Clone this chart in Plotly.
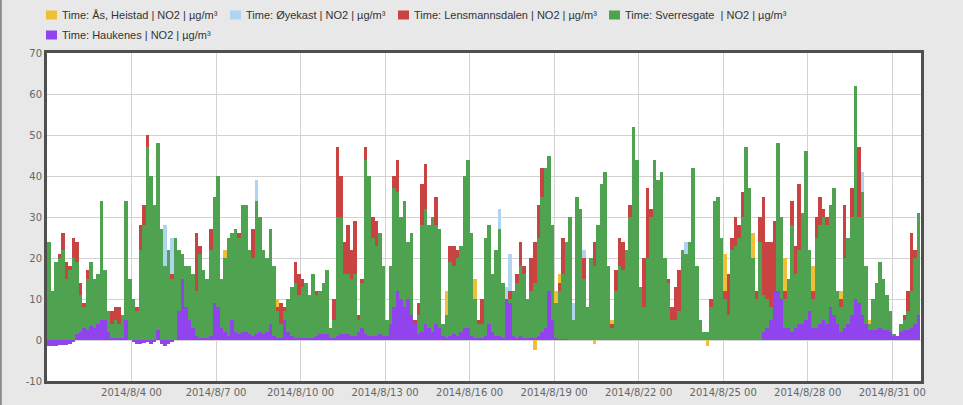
import plotly.graph_objects as go
import pandas as pd

# ---------------- data (3-hour slots, 8 per day, 2014-08-01 .. 2014-08-31) ----------------
series_names = [
    "Time: Ås, Heistad | NO2 | µg/m³",
    "Time: Øyekast | NO2 | µg/m³",
    "Time: Lensmannsdalen | NO2 | µg/m³",
    "Time: Sverresgate  | NO2 | µg/m³",
    "Time: Haukenes | NO2 | µg/m³",
]
series_colors = ["#efbf3a", "#aed4f0", "#c94343", "#4fa24f", "#9143ee"]

as_heistad = [
    [12, 8, 10, 12, 12, 10, 10, 12],      # 8/1
    [10, 7, 6, 10, 12, 10, 10, 20],       # 8/2
    [10, 4, 3, 3, 3, 4, 20, 10],          # 8/3
    [6, 5, 18, 22, 30, 30, 25, 30],       # 8/4
    [18, 12, 15, 10, 16, 15, 14, 12],     # 8/5
    [10, 10, 8, 14, 12, 10, 15, 22],      # 8/6
    [25, 10, 22, 15, 12, 12, 10, 12],     # 8/7
    [20, 14, 12, 20, 18, 14, 12, 16],     # 8/8
    [12, 10, 3, 5, 7, 8, 9, 8],           # 8/9
    [8, 9, 7, 10, 7, 8, 9, 11],           # 8/10
    [2, 4, 20, 20, 11, 11, 10, 11],       # 8/11
    [3, 10, 30, 28, 17, 16, 18, 12],      # 8/12
    [3, 12, 25, 25, 20, 24, 16, 18],      # 8/13
    [3, 4, 20, 22, 20, 21, 20, 19],       # 8/14
    [3, 12, 10, 10, 10, 12, 15, 15],      # 8/15
    [14, 15, 3, 4, 8, 10, 10, 12],        # 8/16
    [16, 8, 6, 6, 8, 9, 12, 10],          # 8/17
    [6, 10, -2.5, 10, 10, 10, 10, 10],    # 8/18
    [12, 16, 10, 10, 10, 3, 10, 10],      # 8/19
    [18, 5, 8, -1, 15, 15, 15, 10],       # 8/20
    [5, 8, 10, 10, 10, 15, 15, 20],       # 8/21
    [10, 6, 14, 20, 30, 26, 28, 14],      # 8/22
    [9, 4, 4, 5, 14, 14, 14, 26],         # 8/23
    [10, 3, 1, -1.5, 5, 10, 15, 18],      # 8/24
    [21, 14, 10, 12, 15, 15, 20, 20],     # 8/25
    [26, 10, 15, 12, 10, 10, 8, 20],      # 8/26
    [20, 20, 12, 15, 10, 10, 10, 15],     # 8/27
    [15, 18, 12, 10, 10, 12, 12, 12],     # 8/28
    [8, 12, 12, 12, 15, 15, 20, 20],      # 8/29
    [10, 5, 5, 6, 10, 8, 6, 4],           # 8/30
    [1, 1, 3, 4, 5, 8, 12, 20],           # 8/31
]
oyekast = [
    [14, 9, 12, 14, 14, 10, 12, 14],
    [12, 8, 6, 10, 14, 10, 12, 24],
    [12, 5, 3, 4, 3, 4, 24, 12],
    [7, 5, 20, 25, 35, 30, 26, 35],
    [20, 28, 15, 25, 15, 15, 15, 10],
    [12, 12, 10, 16, 13, 12, 16, 26],
    [28, 10, 14, 18, 18, 20, 18, 24],
    [20, 18, 18, 39, 25, 18, 15, 15],
    [12, 5, 3, 5, 7, 9, 10, 8],
    [9, 10, 8, 11, 8, 8, 10, 12],
    [2, 4, 22, 22, 12, 12, 11, 12],
    [4, 10, 32, 30, 18, 17, 19, 13],
    [4, 13, 27, 26, 22, 25, 17, 19],
    [3, 4, 21, 24, 21, 22, 21, 20],
    [3, 4, 14, 13, 14, 16, 28, 30],
    [18, 7, 3, 3, 18, 20, 12, 16],
    [32, 12, 13, 21, 10, 10, 12, 10],
    [7, 8, 10, 18, 25, 30, 32, 20],
    [8, 10, 12, 15, 15, 9, 15, 22],
    [22, 5, 10, 12, 15, 15, 15, 12],
    [3, 9, 12, 12, 15, 20, 22, 30],
    [10, 7, 15, 22, 32, 28, 30, 15],
    [10, 5, 8, 10, 20, 24, 20, 25],
    [10, 3, 1, 1, 5, 20, 22, 16],
    [8, 5, 15, 16, 18, 20, 25, 25],
    [14, 7, 16, 8, 7, 6, 8, 30],
    [18, 8, 10, 20, 12, 16, 22, 30],
    [15, 8, 18, 20, 22, 20, 24, 26],
    [8, 8, 15, 18, 25, 30, 30, 41],
    [10, 3, 6, 8, 12, 9, 7, 5],
    [1, 1, 3, 4, 5, 8, 14, 22],
]
lensmannsdalen = [
    [20, 12, 19, 21, 26, 19, 18, 25],
    [24, 14, 9, 17, 18, 15, 16, 30],
    [15, 6, 7, 8, 8, 5, 30, 14],
    [9, 8, 28, 33, 50, 38, 30, 40],
    [22, 15, 18, 16, 20, 20, 18, 15],
    [12, 15, 26, 23, 14, 13, 27, 30],
    [30, 12, 18, 22, 20, 24, 26, 28],
    [25, 20, 27, 30, 25, 18, 16, 20],
    [15, 8, 9, 8, 9, 12, 19, 16],
    [15, 12, 10, 12, 12, 10, 12, 14],
    [3, 10, 47, 40, 24, 28, 22, 29],
    [6, 15, 47, 38, 30, 29, 24, 16],
    [5, 16, 40, 44, 28, 30, 22, 24],
    [5, 9, 38, 43, 28, 30, 35, 25],
    [4, 5, 23, 23, 22, 20, 30, 38],
    [20, 10, 5, 10, 22, 25, 15, 20],
    [22, 12, 9, 12, 12, 16, 24, 18],
    [8, 20, 24, 33, 42, 40, 35, 22],
    [8, 14, 25, 22, 24, 4, 28, 28],
    [20, 6, 15, 24, 28, 32, 34, 16],
    [4, 17, 25, 24, 20, 33, 34, 32],
    [12, 20, 37, 32, 40, 36, 34, 18],
    [15, 8, 13, 17, 18, 20, 18, 32],
    [16, 5, 2, 2, 10, 29, 28, 20],
    [12, 16, 25, 30, 28, 36, 35, 32],
    [20, 12, 30, 35, 24, 24, 29, 40],
    [28, 12, 12, 34, 23, 38, 30, 40],
    [20, 12, 30, 35, 32, 30, 30, 30],
    [10, 10, 33, 25, 37, 40, 47, 30],
    [12, 4, 8, 10, 14, 10, 8, 5],
    [1.5, 1, 4, 6, 12, 26, 22, 29],
]
sverresgate = [
    [24, 12, 19, 20, 22, 15, 17, 20],
    [19, 11, 8, 15, 19, 15, 16, 34],
    [17, 7, 4, 5, 4, 6, 34, 15],
    [10, 7, 22, 28, 47, 40, 33, 48],
    [27, 18, 22, 15, 25, 22, 21, 18],
    [18, 16, 12, 21, 17, 15, 22, 35],
    [40, 15, 20, 25, 26, 27, 25, 33],
    [33, 22, 20, 34, 30, 22, 20, 27],
    [18, 7, 4, 7, 10, 13, 14, 11],
    [13, 14, 11, 16, 11, 12, 14, 17],
    [3, 5, 30, 30, 16, 16, 15, 16],
    [5, 14, 44, 40, 25, 23, 26, 18],
    [5, 18, 37, 36, 30, 34, 24, 26],
    [4, 6, 28, 32, 28, 30, 28, 27],
    [4, 6, 19, 18, 20, 23, 40, 44],
    [26, 10, 4, 4, 25, 28, 16, 22],
    [27, 14, 9, 10, 12, 14, 18, 16],
    [10, 12, 14, 25, 35, 42, 45, 28],
    [9, 12, 16, 24, 30, 5, 35, 32],
    [15, 8, 20, 18, 28, 38, 41, 18],
    [3, 12, 18, 17, 22, 30, 52, 44],
    [13, 8, 20, 30, 44, 39, 41, 20],
    [14, 5, 5, 7, 22, 21, 24, 42],
    [18, 5, 2, 2, 8, 34, 35, 25],
    [10, 6, 22, 23, 25, 30, 47, 37],
    [20, 10, 24, 11, 10, 8, 12, 48],
    [30, 10, 15, 28, 16, 22, 31, 46],
    [22, 10, 25, 28, 30, 28, 33, 37],
    [12, 8, 20, 25, 30, 62, 30, 36],
    [18, 4, 10, 14, 19, 15, 11, 7],
    [1.5, 1, 4, 5, 7, 12, 20, 31],
]
haukenes = [
    [-1.5, -1.5, -1.5, -1.3, -1.3, -1.2, -1, -0.5],
    [1.5, 2, 3, 2.5, 3.5, 3, 4, 5],
    [5, 2, 0.3, 0.3, 0.5, 0.5, 5, 0],
    [-0.5, -1, -1, -0.7, -0.5, -1, -0.5, 2.5],
    [-1, -1.5, -1, -0.5, 0, 7, 15, 8],
    [5, 3, 1, 0.5, 0.3, 0.5, 1, 9],
    [8, 3, 2, 1, 5, 2, 1.5, 2],
    [2, 1.5, 1, 1.5, 2, 1.5, 2, 4],
    [1, 0.5, 0.5, 5, 2, 1, 0.5, 0.5],
    [0.5, 0.3, 0.3, 0.5, 1, 1.5, 1.5, 1.5],
    [0.5, 0.5, 1, 1.5, 1.5, 1.5, 1, 1],
    [2, 3, 1.5, 1, 1, 1, 1.5, 1],
    [1, 4, 8, 12, 10, 8, 10, 6],
    [4, 1.5, 2, 4, 3, 2, 4, 3],
    [1, 0.5, 1, 1.5, 1, 2, 3, 3],
    [1, 0.5, 0.3, 0.5, 1, 4, 2, 1],
    [1, 0.5, 10, 9, 1, 0.5, 1, 0.5],
    [0.3, 0.3, 0.5, 1, 2, 3, 12, 5],
    [0.3, 0.2, 0.2, 0.1, 0, None, None, None],
    [None] * 8,
    [None] * 8,
    [None] * 8,
    [None] * 8,
    [None] * 8,
    [None] * 8,
    [None, None, None, 2, 3, 5, 12, 12],
    [10, 3, 3, 2, 3, 4, 4, 5],
    [7, 3, 3, 4, 5, 4, 8, 6],
    [4, 2, 3, 4, 6, 10, 9, 6],
    [4, 2.5, 2.5, 2.5, 3, 2.5, 2.5, 2],
    [1, 1, 2, 2.5, 2.5, 3, 4, 6],
]

x_tick_dates = ["2014-08-04", "2014-08-07", "2014-08-10", "2014-08-13", "2014-08-16",
                "2014-08-19", "2014-08-22", "2014-08-25", "2014-08-28", "2014-08-31"]
x_tick_text = ["2014/8/4 00", "2014/8/7 00", "2014/8/10 00", "2014/8/13 00", "2014/8/16 00",
               "2014/8/19 00", "2014/8/22 00", "2014/8/25 00", "2014/8/28 00", "2014/8/31 00"]
y_tick_vals = [-10, 0, 10, 20, 30, 40, 50, 60, 70]
y_tick_text = ["-10", "0", "10", "20", "30", "40", "50", "60", "70"]

# ---------------- figure ----------------
slot_hours = 3
slot_start = pd.date_range("2014-08-01 00:00", periods=31 * 8, freq=f"{slot_hours}h")
slot_center = slot_start + pd.Timedelta(hours=slot_hours / 2)
bar_width_ms = slot_hours * 3600 * 1000

all_series = [as_heistad, oyekast, lensmannsdalen, sverresgate, haukenes]

fig = go.Figure()
for name, color, days in zip(series_names, series_colors, all_series):
    vals = [v for day in days for v in day]
    fig.add_trace(go.Bar(
        x=slot_center, y=vals, name=name, width=bar_width_ms,
        marker=dict(color=color, line=dict(width=0)),
        showlegend=False,
    ))

W, H = 963, 405
ML, MR, MT, MB = 47, 42, 53, 24
PW, PH = W - ML - MR, H - MT - MB


def px_x(px):
    return (px - ML) / PW


def px_y(py):
    return (H - MB - py) / PH


# manual legend (positions in pixels)
legend_pos = [(46, 15), (230, 15), (398, 15), (609, 15), (46, 35)]
shapes = []
annotations = []
for (lx, ly), name, color in zip(legend_pos, series_names, series_colors):
    shapes.append(dict(type="rect", xref="paper", yref="paper",
                       x0=px_x(lx), x1=px_x(lx + 11), y0=px_y(ly + 4.5), y1=px_y(ly - 4.5),
                       fillcolor=color, line=dict(width=0), layer="above"))
    annotations.append(dict(xref="paper", yref="paper", x=px_x(lx + 14), y=px_y(ly),
                            xanchor="left", yanchor="middle", showarrow=False, text=name,
                            font=dict(family="Liberation Sans, Arial, sans-serif", size=11, color="#333333")))

# outer left frame line
shapes.append(dict(type="line", xref="paper", yref="paper",
                   x0=px_x(0.8), x1=px_x(0.8), y0=px_y(H), y1=px_y(0),
                   line=dict(color="#8a8a8a", width=2), layer="above"))

tick_font = dict(family="DejaVu Sans, Verdana, sans-serif", size=10, color="#666666")

fig.update_layout(
    width=W, height=H,
    margin=dict(l=ML, r=MR, t=MT, b=MB, autoexpand=False),
    paper_bgcolor="#e8e8e8",
    plot_bgcolor="#ffffff",
    barmode="overlay",
    bargap=0,
    shapes=shapes,
    annotations=annotations,
    xaxis=dict(
        type="date", automargin=False,
        range=["2014-08-01 00:00", "2014-09-01 00:30"],
        tickmode="array", tickvals=x_tick_dates, ticktext=x_tick_text,
        showgrid=True, gridcolor="#d2d2d2", gridwidth=1,
        showline=True, mirror=True, linecolor="#4f4f4f", linewidth=3,
        ticks="", tickfont=tick_font, zeroline=False,
    ),
    yaxis=dict(
        range=[-10, 70], automargin=False,
        tickmode="array", tickvals=y_tick_vals, ticktext=y_tick_text,
        showgrid=True, gridcolor="#d2d2d2", gridwidth=1,
        showline=True, mirror=True, linecolor="#4f4f4f", linewidth=3,
        ticks="", tickfont=tick_font, zeroline=False,
    ),
)

fig.write_html("out.html")
